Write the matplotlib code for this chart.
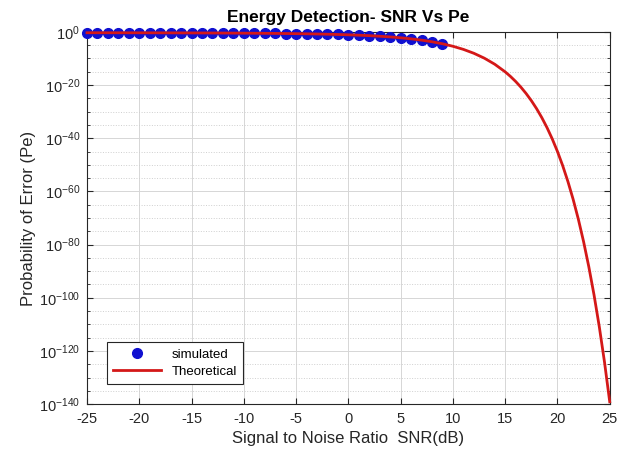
import numpy as np
import matplotlib
matplotlib.use('Agg')
import matplotlib.pyplot as plt
from matplotlib.ticker import FixedLocator, FuncFormatter, NullFormatter

plt.rcParams['font.family'] = ['Liberation Sans', 'DejaVu Sans']
plt.rcParams['mathtext.fontset'] = 'custom'
plt.rcParams['mathtext.rm'] = 'Liberation Sans'
plt.rcParams['mathtext.it'] = 'Liberation Sans'
plt.rcParams['axes.unicode_minus'] = False

# simulated points (SNR dB, log10 Pe)
snr_sim = [-25, -24, -23, -22, -21, -20, -19, -18, -17, -16, -15, -14, -13, -12,
           -11, -10, -9, -8, -7, -6, -5, -4, -3, -2, -1, 0, 1, 2, 3, 4, 5, 6, 7, 8, 9]
log_pe_sim = [-0.33, -0.33, -0.34, -0.34, -0.35, -0.35, -0.36, -0.37, -0.38, -0.39,
              -0.40, -0.41, -0.43, -0.44, -0.46, -0.49, -0.51, -0.54, -0.58, -0.62,
              -0.67, -0.73, -0.80, -0.88, -0.98, -1.10, -1.25, -1.42, -1.64, -1.90,
              -2.23, -2.62, -3.11, -3.72, -4.47]

# theoretical curve (SNR dB, log10 Pe)
snr_th = [-25, -24, -23, -22, -21, -20, -19, -18, -17, -16, -15, -14, -13, -12,
          -11, -10, -9, -8, -7, -6, -5, -4, -3, -2, -1, 0, 1, 2, 3, 4, 5, 6, 7, 8,
          9, 10, 11, 12, 13, 14, 15, 15.5, 16, 16.5, 17, 17.5, 18, 18.5, 19, 19.5,
          20, 20.5, 21, 21.5, 22, 22.5, 23, 23.5, 24, 24.5, 25]
log_pe_th = [-0.329, -0.333, -0.337, -0.342, -0.347, -0.353, -0.360, -0.367, -0.376,
             -0.386, -0.397, -0.410, -0.425, -0.442, -0.462, -0.485, -0.512, -0.542,
             -0.579, -0.621, -0.671, -0.730, -0.800, -0.883, -0.982, -1.104, -1.248,
             -1.416, -1.641, -1.903, -2.229, -2.622, -3.108, -3.717, -4.472, -5.412,
             -6.582, -8.045, -9.875, -12.167, -15.04, -16.74, -18.645, -20.78, -23.171,
             -25.851, -28.855, -32.223, -36.0, -40.235, -44.981, -50.304, -56.275,
             -62.969, -70.481, -78.905, -88.353, -98.95, -110.84, -124.175, -139.136]

pe_sim = 10.0 ** np.array(log_pe_sim)
pe_th = 10.0 ** np.array(log_pe_th)

fig = plt.figure(figsize=(6.26, 4.49), dpi=100)
ax = fig.add_axes([0.139, 0.100, 0.835, 0.829])

ax.semilogy(snr_sim, pe_sim, 'o', color='#1010d0', markersize=7,
            label='simulated', clip_on=False, zorder=3)
ax.semilogy(snr_th, pe_th, '-', color='#d41818', linewidth=2,
            label='Theoretical', clip_on=False, zorder=4)

ax.set_xlim(-25, 25)
ax.set_ylim(1e-140, 1e0)
ax.set_xticks(np.arange(-25, 26, 5))

major = 10.0 ** np.arange(-140, 1, 20)
minor = 10.0 ** np.array([e for e in range(-140, 1, 5) if e % 20 != 0])
ax.yaxis.set_major_locator(FixedLocator(major))
ax.yaxis.set_minor_locator(FixedLocator(minor))
ax.yaxis.set_minor_formatter(NullFormatter())
ax.yaxis.set_major_formatter(FuncFormatter(
    lambda v, p: r'$10^{%d}$' % int(round(np.log10(v)))))

ax.tick_params(which='both', direction='in', top=True, right=True,
               labelsize=10.5, labelcolor='#262626', color='#262626')
ax.tick_params(which='major', length=4)
ax.tick_params(which='minor', length=2.5)
ax.tick_params(axis='x', pad=6)
ax.tick_params(axis='y', pad=5)
ax.grid(True, which='major', color='#d6d6d6', linewidth=0.7)
ax.grid(True, which='minor', axis='y', color='#cfcfcf', linestyle=':', linewidth=0.7)
ax.set_axisbelow(True)
for s in ax.spines.values():
    s.set_color('#262626')
    s.set_linewidth(0.8)

ax.set_title('Energy Detection- SNR Vs Pe', fontsize=12.5, fontweight='bold', pad=7)
ax.set_xlabel('Signal to Noise Ratio  SNR(dB)', fontsize=12, color='#262626', labelpad=3)
ax.set_ylabel('Probability of Error (Pe)', fontsize=12, color='#262626', labelpad=2)

leg = ax.legend(loc='lower left', bbox_to_anchor=(0.025, 0.035), fontsize=9.5,
                fancybox=False, framealpha=1, edgecolor='#262626',
                handlelength=3.6, borderpad=0.5, labelspacing=0.35)
leg.get_frame().set_linewidth(0.8)

fig.savefig('out.png', dpi=100)
